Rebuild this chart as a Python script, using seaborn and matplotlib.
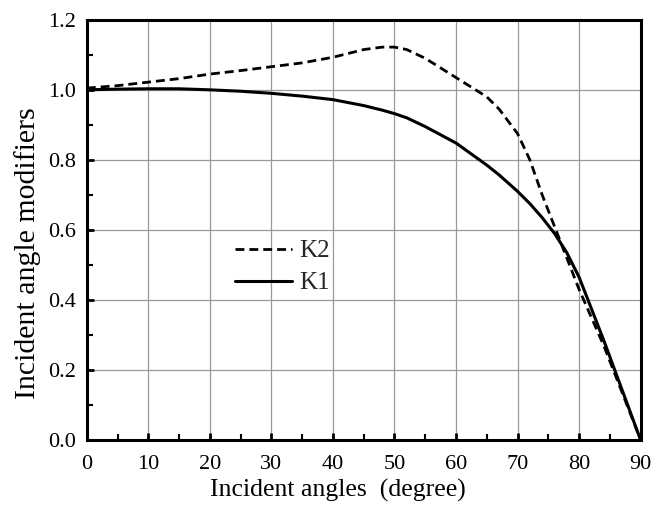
import numpy as np
import pandas as pd
import seaborn as sns
import matplotlib
matplotlib.use("Agg")
import matplotlib.pyplot as plt
from matplotlib.ticker import MultipleLocator

# values
angles = [0, 5, 10, 15, 20, 25, 30, 35, 40, 45, 48, 50, 52, 55, 60, 65, 67, 70,
          72, 74, 76, 78, 80, 82, 84, 86, 88, 90]
k1 = [1.0, 1.002, 1.003, 1.003, 1.0, 0.996, 0.99, 0.982, 0.972, 0.955, 0.942, 0.932,
      0.92, 0.895, 0.848, 0.785, 0.757, 0.71, 0.675, 0.635, 0.59, 0.535, 0.465,
      0.375, 0.285, 0.19, 0.095, 0.0]
k2 = [1.005, 1.012, 1.022, 1.032, 1.045, 1.055, 1.066, 1.077, 1.093, 1.115, 1.122, 1.122,
      1.115, 1.09, 1.035, 0.98, 0.945, 0.875, 0.80, 0.70, 0.61, 0.52, 0.43,
      0.35, 0.27, 0.18, 0.09, 0.0]

df = pd.DataFrame({"angle": angles, "K1": k1, "K2": k2})

sns.set_theme(style="whitegrid")
plt.rcParams["font.family"] = ["Liberation Serif", "DejaVu Serif"]

fig = plt.figure(figsize=(6.68, 5.08), dpi=100)
ax = fig.add_axes([0.130, 0.134, 0.829, 0.827])

sns.lineplot(data=df, x="angle", y="K2", ax=ax, color="black", lw=2.0, label="K2")
ax.lines[-1].set_dashes([3.2, 1.8])
sns.lineplot(data=df, x="angle", y="K1", ax=ax, color="black", lw=2.2, label="K1")

ax.set_xlim(0, 90)
ax.set_ylim(0, 1.2)
ax.xaxis.set_major_locator(MultipleLocator(10))
ax.xaxis.set_minor_locator(MultipleLocator(5))
ax.yaxis.set_major_locator(MultipleLocator(0.2))
ax.yaxis.set_minor_locator(MultipleLocator(0.1))
ax.yaxis.set_major_formatter(matplotlib.ticker.FormatStrFormatter("%.1f"))

ax.grid(True, which="major", color="#999999", lw=0.9)
ax.grid(False, which="minor")
for s in ax.spines.values():
    s.set_color("black")
    s.set_linewidth(2.2)

ax.tick_params(which="both", direction="in", top=False, right=False,
               bottom=True, left=True, color="black", labelsize=16, labelcolor="black")
ax.tick_params(which="major", length=5, width=2)
ax.tick_params(which="minor", length=4, width=1.5)
ax.tick_params(axis="x", pad=11)
ax.tick_params(axis="y", pad=8)

ax.set_xlabel("Incident angles  (degree)", fontsize=18.5, color="black")
ax.set_ylabel("Incident angle modifiers", fontsize=21.5, color="black")
ax.xaxis.set_label_coords(0.453, -0.093)
ax.yaxis.set_label_coords(-0.083, 0.445)

leg = ax.legend(loc="upper left", bbox_to_anchor=(0.267, 0.476), frameon=False,
                fontsize=18, handlelength=2.3, handletextpad=0.3, labelspacing=0.38,
                borderpad=0, borderaxespad=0)

fig.savefig("out.png", dpi=100)
